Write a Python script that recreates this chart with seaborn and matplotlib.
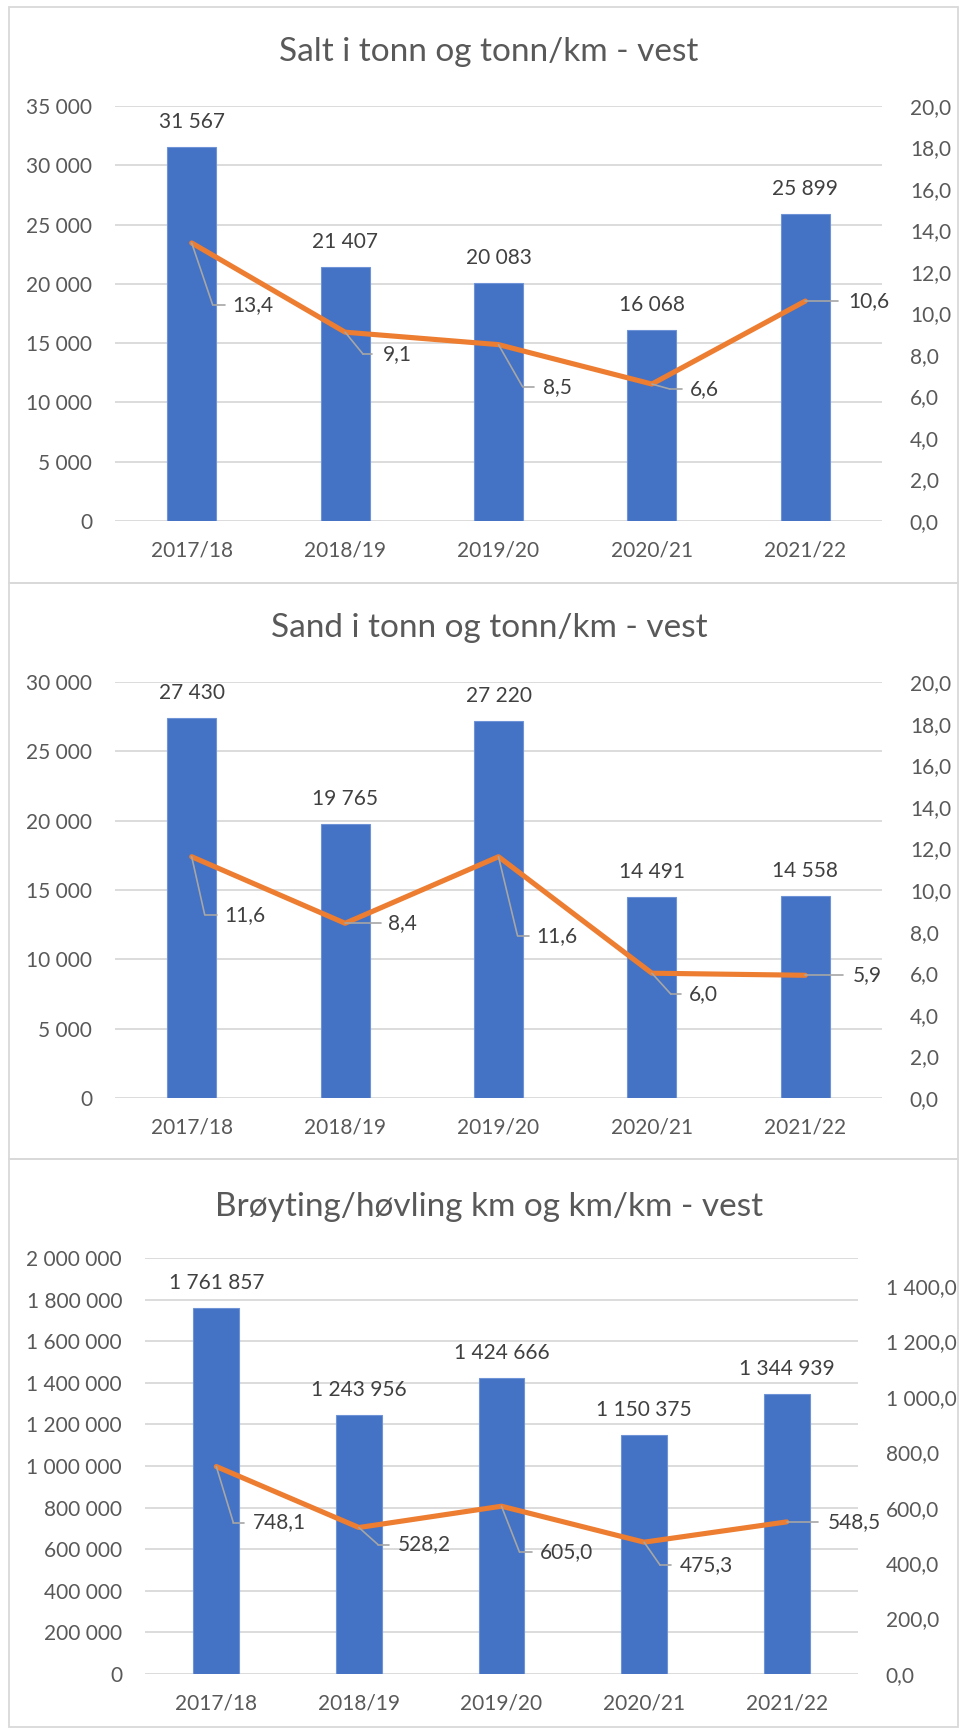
import numpy as np
import matplotlib
matplotlib.use("Agg")
import matplotlib.pyplot as plt
import seaborn as sns
from matplotlib.patches import Rectangle
from matplotlib.lines import Line2D
from matplotlib.transforms import IdentityTransform

# ---- data ----
seasons = ["2017/18", "2018/19", "2019/20", "2020/21", "2021/22"]

salt_tonn = [31567, 21407, 20083, 16068, 25899]
salt_per_km = [13.4, 9.1, 8.5, 6.6, 10.6]

sand_tonn = [27430, 19765, 27220, 14491, 14558]
sand_per_km = [11.6, 8.4, 11.6, 6.0, 5.9]

broyt_km = [1761857, 1243956, 1424666, 1150375, 1344939]
broyt_per_km = [748.1, 528.2, 605.0, 475.3, 548.5]

titles = ["Salt i tonn og tonn/km - vest",
          "Sand i tonn og tonn/km - vest",
          "Brøyting/høvling km og km/km - vest"]

# ---- style ----
sns.set_theme(style="white")
plt.rcParams["font.family"] = ["Lato", "DejaVu Sans"]

BAR = "#4472C4"
LINE = "#ED7D31"
AXTXT = "#595959"
LBLTXT = "#404040"
GRID = "#D9D9D9"
LEADER = "#A6A6A6"
FS = 15

W, H = 959, 1728
fig = plt.figure(figsize=(W / 100, H / 100), dpi=100)
fig.patch.set_facecolor("white")


def fig_rect(left, top, right, bottom):
    return [left / W, 1 - bottom / H, (right - left) / W, (bottom - top) / H]


def nb_int(v):
    return f"{int(round(v)):,}".replace(",", " ")


def nb_dec(v):
    return f"{v:,.1f}".replace(",", " ").replace(".", ",")


panels = [
    dict(bars=salt_tonn, line=salt_per_km, title=titles[0],
         box=(115, 106, 882, 521), title_y=52,
         lmax=35000, lstep=5000, rmax=20, rticks=np.arange(0, 20.1, 2),
         # per point: elbow dx, elbow dy (downwards), stub end dx, text dx  (pixels)
         leaders=[(21, 62, 33, 41), (18, 22, 27, 38), (24, 42, 35, 45),
                  (18, 5, 30, 38), (0, 0, 33, 43)]),
    dict(bars=sand_tonn, line=sand_per_km, title=titles[1],
         box=(115, 682, 882, 1098), title_y=628,
         lmax=30000, lstep=5000, rmax=20, rticks=np.arange(0, 20.1, 2),
         leaders=[(13, 58, 25, 33), (0, 0, 36, 43), (19, 79, 30, 38),
                  (19, 21, 29, 37), (0, 0, 38, 47)]),
    dict(bars=broyt_km, line=broyt_per_km, title=titles[2],
         box=(145, 1258, 858, 1674), title_y=1207,
         lmax=2000000, lstep=200000, rmax=1500, rticks=np.arange(0, 1401, 200),
         leaders=[(17, 56, 28, 37), (19, 17, 30, 39), (18, 46, 30, 38),
                  (16, 23, 27, 36), (0, 0, 31, 41)]),
]

x_pos = np.arange(len(seasons))
stubs = []

for p in panels:
    l, t, r, b = p["box"]
    ax = fig.add_axes(fig_rect(l, t, r, b))
    ax.set_facecolor("none")

    sns.barplot(x=seasons, y=p["bars"], color=BAR, width=0.32, ax=ax,
                edgecolor="#6E93D6", linewidth=0.8, saturation=1, zorder=2)
    ax.set_xlim(-0.5, len(seasons) - 0.5)
    ax.set_ylim(0, p["lmax"])
    lt = np.arange(0, p["lmax"] + 1, p["lstep"])
    ax.set_yticks(lt)
    ax.set_yticklabels([nb_int(v) for v in lt])
    ax.yaxis.grid(True, color=GRID, linewidth=1.3, zorder=0)
    ax.set_axisbelow(True)
    for s in ax.spines.values():
        s.set_visible(False)
    ax.tick_params(axis="y", length=0, pad=16.5, labelsize=FS, labelcolor=AXTXT)
    ax.tick_params(axis="x", length=0, pad=14, labelsize=FS, labelcolor=AXTXT)
    ax.set_xlabel("")
    ax.set_ylabel("")

    # value labels above the bars
    for i, v in enumerate(p["bars"]):
        ax.annotate(nb_int(v), xy=(i, v), xytext=(0, 25), textcoords="offset pixels",
                    ha="center", va="center", fontsize=FS, color=LBLTXT)

    # secondary axis with the per-km line
    ax2 = ax.twinx()
    ax2.set_facecolor("none")
    sns.lineplot(x=x_pos, y=p["line"], color=LINE, linewidth=3.7, ax=ax2,
                 solid_capstyle="round", solid_joinstyle="round", zorder=3)
    ax2.set_ylim(0, p["rmax"])
    ax2.set_yticks(p["rticks"])
    ax2.set_yticklabels([nb_dec(v) for v in p["rticks"]])
    for s in ax2.spines.values():
        s.set_visible(False)
    ax2.tick_params(axis="y", length=0, pad=20, labelsize=FS, labelcolor=AXTXT)
    ax2.set_ylabel("")
    ax2.grid(False)

    for i, (v, (ex, ey, hx, tx)) in enumerate(zip(p["line"], p["leaders"])):
        # diagonal leader from the point to the elbow
        if ex or ey:
            ax2.annotate("", xy=(i, v), xytext=(ex, -ey), textcoords="offset pixels",
                         arrowprops=dict(arrowstyle="-", color=LEADER, lw=1.2,
                                         shrinkA=0, shrinkB=0))
        ax2.annotate(nb_dec(v), xy=(i, v), xytext=(tx, -ey), textcoords="offset pixels",
                     ha="left", va="center", fontsize=FS, color=LBLTXT)
        stubs.append((ax2, i, v, ex, ey, hx))

    fig.text(489 / W, 1 - p["title_y"] / H, p["title"], ha="center", va="center",
             fontsize=24, color=AXTXT)

# short horizontal stubs of the leaders, placed in display pixels from each point
fig.canvas.draw()
for ax2, i, v, ex, ey, hx in stubs:
    px, py = ax2.transData.transform((i, v))
    fig.add_artist(Line2D([px + ex, px + hx], [py - ey, py - ey],
                          transform=IdentityTransform(), color=LEADER, lw=1.2))

# chart frames
frame_kw = dict(transform=IdentityTransform(), fill=False, edgecolor=GRID, linewidth=1.3)
for top, bottom in [(7, 583), (583, 1159), (1159, 1727)]:
    fig.add_artist(Rectangle((9, H - bottom), 949, bottom - top, **frame_kw))

fig.savefig("out.png", dpi=100, facecolor="white")
